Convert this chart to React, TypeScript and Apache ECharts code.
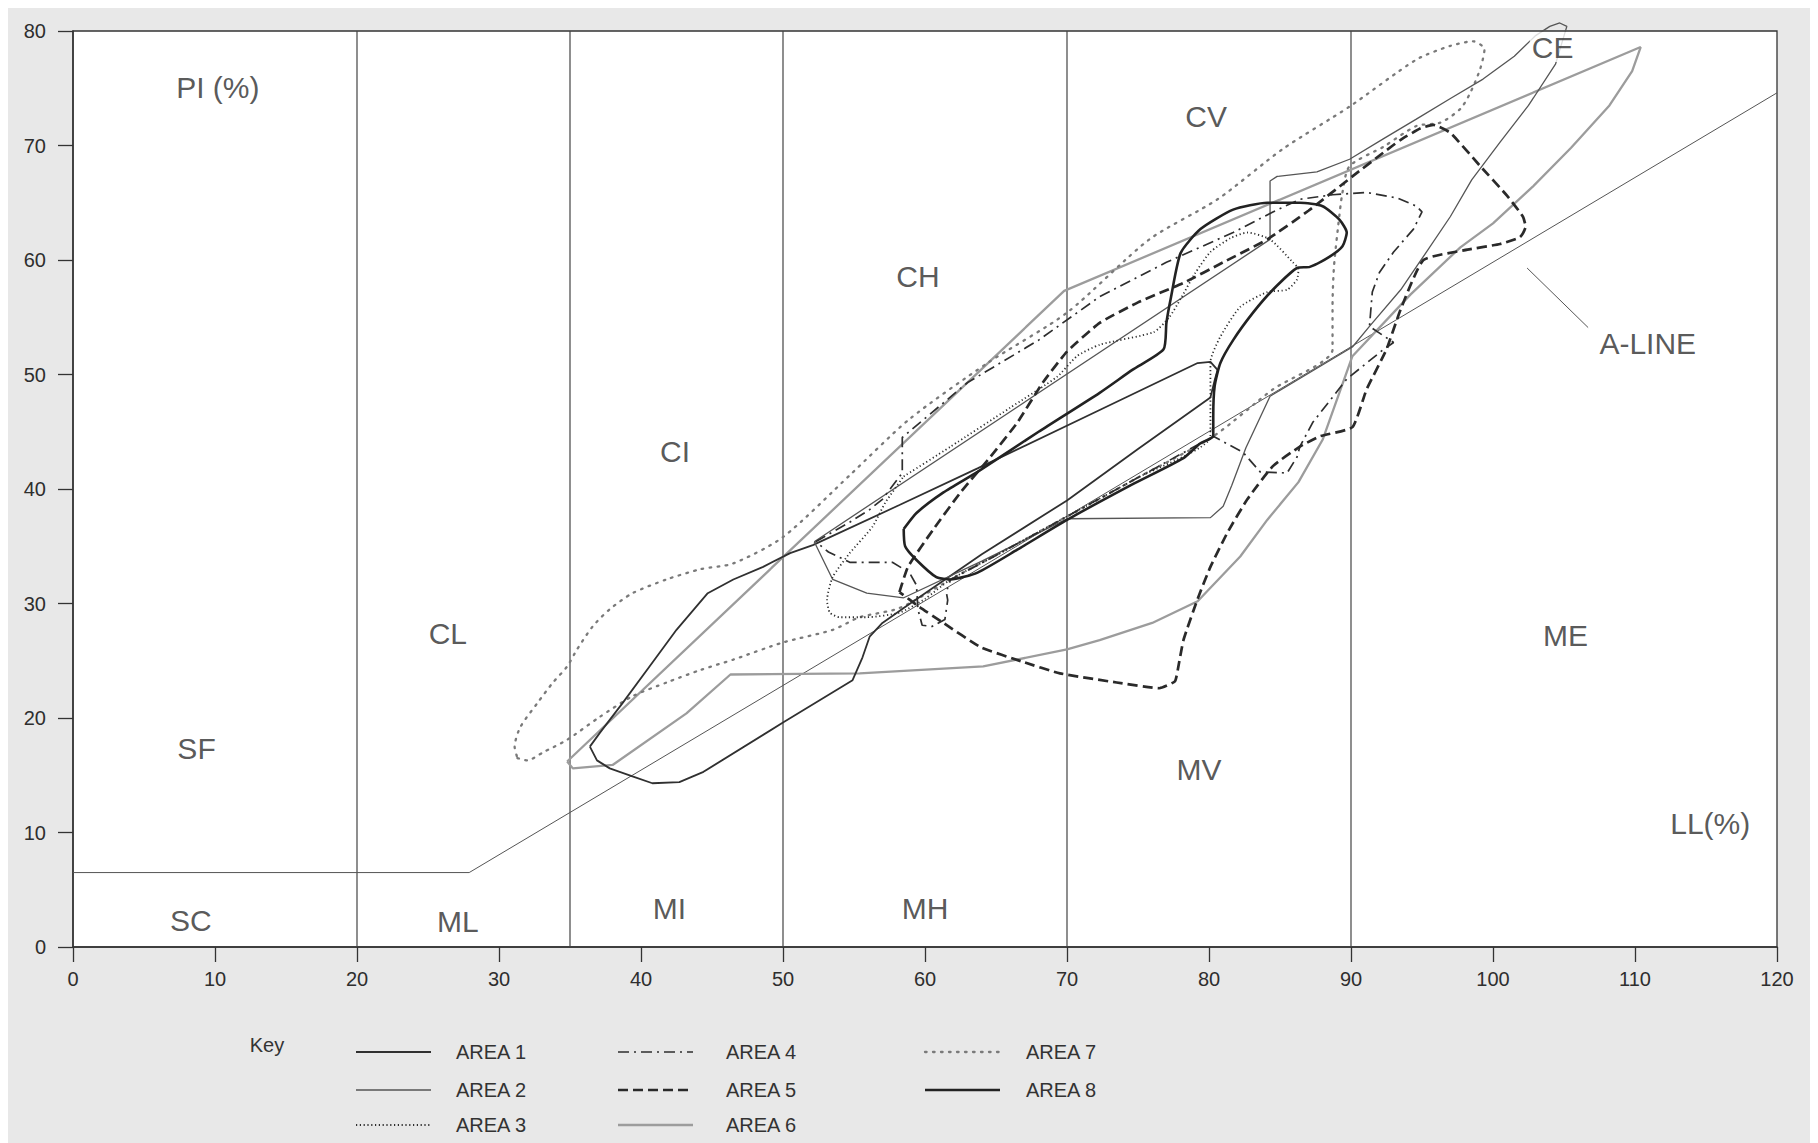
import React, { useEffect, useRef } from "react";
import * as echarts from "echarts";

const FONT = '"Liberation Sans", Arial, Helvetica, sans-serif';

// Axis ranges
const LL_MIN = 0;
const LL_MAX = 120;
const PI_MIN = 0;
const PI_MAX = 80;

// Classification boundaries (LL %)
const ZONE_BOUNDARIES = [20, 35, 50, 70, 90];

// A-line as drawn (horizontal part then slope)
const A_LINE = [[0, 6.5], [27.9, 6.5], [120, 74.6]];
const A_LEADER = [[102.4, 59.3], [106.7, 54.1]];

// Zone / axis annotations: [name, LL, PI]
const ZONE_LABELS: [string, number, number][] = [
  ["PI (%)", 10.2, 75.1],
  ["SF", 8.7, 17.3],
  ["SC", 8.3, 2.3],
  ["CL", 26.4, 27.4],
  ["ML", 27.1, 2.2],
  ["CI", 42.4, 43.3],
  ["MI", 42.0, 3.4],
  ["CH", 59.5, 58.6],
  ["MH", 60.0, 3.4],
  ["CV", 79.8, 72.5],
  ["MV", 79.3, 15.5],
  ["CE", 104.2, 78.6],
  ["ME", 105.1, 27.2],
  ["A-LINE", 110.9, 52.7],
  ["LL(%)", 115.3, 10.8],
];

// Envelopes of the eight areas, [LL, PI]
const AREA_1 = [
  [36.4, 17.5], [36.9, 16.3], [37.8, 15.6], [39.4, 14.9], [40.8, 14.3], [42.7, 14.4],
  [44.4, 15.3], [50, 19.6], [54.9, 23.3], [55.6, 25.3], [56.1, 27.1], [57, 28.3],
  [58.5, 29.6], [64, 34.3], [70, 39], [75, 43.5], [80.1, 48], [80.4, 49.5],
  [80.6, 50.4], [80.1, 51.1], [79.2, 51], [72.3, 46.9], [63.7, 41.8], [58.2, 38.6],
  [52.1, 35.1], [50.5, 34.4], [48.6, 33.2], [46.5, 32.1], [44.7, 30.9], [42.5, 27.7],
  [40.6, 24.5], [38.7, 21.3], [37.1, 18.7], [36.4, 17.5],
];

const AREA_2 = [
  [52.2, 35.4], [84.3, 61.8], [84.3, 66.9], [84.8, 67.3], [87.6, 67.7], [89.9, 68.8],
  [92.3, 70.6], [94.6, 72.3], [97, 74.1], [99.3, 75.8], [101.5, 77.8], [103, 79.6],
  [104, 80.4], [104.7, 80.7], [105.2, 80.4], [104.4, 77.1], [102.5, 73.5], [100.5, 70.3],
  [98.5, 67], [97, 63.8], [95.2, 60.5], [93.5, 57.4], [91.3, 54.2], [90.1, 52.4],
  [84.3, 48.1], [82.6, 43.6], [81.6, 40.3], [81, 38.5], [80.1, 37.5], [70, 37.4],
  [64, 33.7], [58.5, 30.5], [55.9, 30.9], [53.5, 32.1], [52.2, 35.4],
];

const AREA_3 = [
  [58.5, 41.1], [61.8, 43.7], [66, 47.1], [69.3, 49.8], [70.7, 51.6], [72.3, 52.6],
  [76.1, 53.7], [77.2, 55], [78, 56.6], [79, 58.8], [80.1, 60.7], [81.5, 61.9],
  [82.7, 62.4], [84.3, 61.8], [85.9, 59.8], [86.3, 59.2], [86.2, 58.3], [85.5, 57.4],
  [84.1, 57.2], [82.2, 55.9], [80.8, 53.3], [80.1, 51.1], [80.1, 44.6], [75, 41],
  [70, 37.6], [65, 34.2], [61.8, 32.1], [60, 30.4], [58.2, 29.2], [55.9, 28.8],
  [54, 28.8], [53.3, 29.2], [53.1, 30.3], [53.5, 32.3], [54.7, 34.4], [56.3, 36.7],
  [57.2, 38.8], [58.5, 41.1],
];

const AREA_4 = [
  [52.3, 35.4], [54.7, 37.1], [56.1, 38.2], [57, 39.1], [58.4, 41.4], [58.4, 44.5],
  [63, 49.3], [68, 53], [72.3, 56.8], [77, 59.8], [81.7, 62.4], [84.5, 64.2],
  [86.4, 65.3], [88.7, 65.7], [91.1, 65.9], [93.3, 65.4], [94.6, 64.7], [95, 64.2],
  [94.4, 62.7], [93, 60.7], [92, 58.9], [91.5, 57.2], [91.3, 54.2], [93, 52.8],
  [92.3, 52.2], [89.7, 49.6], [87.3, 45.8], [86.4, 43.7], [86.2, 42.8], [85.5, 41.4],
  [83.6, 41.5], [82.4, 43.2], [80.3, 44.6], [75, 41], [70, 37.6], [65, 34.2],
  [61.8, 32.1], [61.5, 31], [61.6, 30.3], [61.4, 28.6], [60.5, 28], [59.8, 28.1],
  [59.5, 29.5], [59.4, 31.6], [58.9, 32.7], [57.7, 33.6], [54.7, 33.6], [53.2, 34.5],
  [52.3, 35.4],
];

const AREA_5 = [
  [58.2, 31.0], [58.8, 33.2], [60.6, 36.5], [62.5, 39.7], [64.6, 42.8], [66.5, 45.8],
  [68.3, 49.3], [70, 52], [72.3, 54.5], [75, 56.3], [78.2, 58], [81, 59.8],
  [84.1, 61.8], [87, 64.3], [90.1, 67.3], [92.3, 69.4], [93.5, 70.5], [94.9, 71.5],
  [95.8, 71.8], [97, 71.1], [99.1, 68.2], [101, 65.6], [102.1, 63.8], [102.3, 62.9],
  [101.9, 62], [100.5, 61.4], [98.2, 60.9], [95.1, 60], [93.5, 55.7], [92.5, 52.2],
  [91.1, 48.7], [90.1, 45.4], [87.8, 44.6], [86.4, 43.7], [84.5, 42], [82.7, 39.1],
  [81.3, 36.2], [80.1, 33.2], [79.2, 30.4], [78.2, 26.8], [77.8, 24.2], [77.6, 23.2],
  [76.5, 22.6], [73.5, 23.1], [69.5, 23.9], [66.9, 24.9], [63.9, 26.2], [61.3, 28.3],
  [59.6, 29.7], [58.2, 31.0],
];

const AREA_6 = [
  [34.8, 16.2], [69.8, 57.3], [110.4, 78.6], [109.8, 76.5], [108.2, 73.5], [105.5, 69.8],
  [102.8, 66.4], [100, 63.2], [97.7, 61.1], [94.2, 57], [90.1, 51.6], [88, 44.3],
  [86.3, 40.6], [84.1, 37.3], [82.2, 34.1], [79.2, 30.2], [76, 28.3], [72.3, 26.8],
  [70, 26], [64.1, 24.5], [55.4, 23.9], [46.3, 23.8], [43.2, 20.4], [38, 15.9],
  [35.2, 15.6], [34.8, 16.2],
];

const AREA_7 = [
  [31.3, 16.5], [32, 16.3], [33.1, 17], [34.8, 18.1], [37.1, 20.1], [39.4, 21.9],
  [41.8, 23.1], [44.2, 24.2], [46.5, 25.1], [50, 26.6], [53.5, 27.7], [55.4, 28.8],
  [58.2, 29.6], [61.8, 32.1], [66, 34.9], [70, 37.6], [75, 41], [80.3, 44.6],
  [84.5, 48.7], [88.7, 52.2], [88.7, 56], [88.8, 59.4], [89.1, 63], [89.4, 65.9],
  [89.9, 68.2], [92.3, 69.9], [94.6, 71.7], [96.3, 72], [97.7, 73.2], [98.4, 74.6],
  [99.1, 76.7], [99.4, 78.4], [98.6, 79.1], [97, 78.7], [94.6, 77.5], [89.9, 73.4],
  [85.2, 69.7], [80.6, 65.3], [75.8, 61.8], [70, 55.4], [64.4, 51], [58.9, 46.1],
  [54.7, 41.2], [50, 35.8], [46.5, 33.5], [44.2, 33], [41.8, 32.1], [39.4, 30.9],
  [37.8, 29.5], [36.6, 28], [35.5, 26], [34.8, 24.5], [33.8, 23.1], [32.7, 21.3],
  [31.5, 19.2], [31.1, 17.5], [31.3, 16.5],
];

const AREA_8 = [
  [58.5, 36.5], [58.6, 35], [59.4, 33.8], [60.8, 32.3], [61.8, 32.1], [63.7, 32.7],
  [66.5, 34.7], [70, 37.3], [74.6, 40.4], [78.2, 42.7], [79.4, 44], [80.3, 44.6],
  [80.3, 46.3], [80.4, 49], [80.8, 51], [81.7, 53], [83.1, 55.4], [84.5, 57.4],
  [86.2, 59.3], [87.1, 59.4], [88.5, 60.3], [89.4, 61.2], [89.7, 62.4], [89.2, 63.5],
  [88, 64.7], [86.4, 65], [84.1, 65], [81.7, 64.4], [79.4, 62.7], [78, 60.6],
  [77.3, 56.6], [77, 54.5], [76.8, 52.2], [74.6, 50.4], [72.3, 48.4], [68, 45],
  [63.7, 41.5], [61.3, 39.7], [59.4, 37.9], [58.5, 36.5],
];

const AREA_NAMES = ["AREA 1", "AREA 2", "AREA 3", "AREA 4", "AREA 5", "AREA 6", "AREA 7", "AREA 8"];
const AREA_DATA = [AREA_1, AREA_2, AREA_3, AREA_4, AREA_5, AREA_6, AREA_7, AREA_8];

const AREA_STYLES: any[] = [
  { color: "#303030", width: 1.8, type: "solid" },
  { color: "#555555", width: 1.3, type: "solid" },
  { color: "#2e2e2e", width: 1.8, type: [1.2, 2.6] },
  { color: "#2e2e2e", width: 1.7, type: [11, 5, 2, 5] },
  { color: "#2a2a2a", width: 2.7, type: [10, 5] },
  { color: "#9c9c9c", width: 2.3, type: "solid" },
  { color: "#7a7a7a", width: 2.3, type: [1.6, 6.4] },
  { color: "#222222", width: 2.6, type: "solid" },
];
const AREA_SMOOTH = [0, 0, 0.2, 0, 0.15, 0, 0.25, 0.2];

// Key layout (3 columns)
const KEY_COLUMNS = [[0, 1, 2], [3, 4, 5], [6, 7]];

export default function App() {
  const ref = useRef<HTMLDivElement>(null);

  useEffect(() => {
    if (!ref.current) return;
    const chart = echarts.init(ref.current, null, { renderer: "svg" });

    const boundarySeries = ZONE_BOUNDARIES.map((ll) => ({
      type: "line",
      data: [[ll, PI_MIN], [ll, PI_MAX]],
      symbol: "none",
      silent: true,
      lineStyle: { color: "#444", width: 1.2 },
      z: 1,
    }));

    const areaSeries = AREA_NAMES.map((name, i) => ({
      name,
      type: "line",
      data: AREA_DATA[i],
      symbol: "none",
      smooth: AREA_SMOOTH[i],
      clip: false,
      silent: true,
      lineStyle: { ...AREA_STYLES[i], cap: i === 6 ? "round" : "butt" },
      z: 3 + (i === 5 || i === 6 ? 0 : 1),
    }));

    // Key drawn as graphic elements
    const keyColX = [348, 610, 917];
    const keyTextX = [448, 718, 1018];
    const keyRowY = [1044, 1082, 1117];
    const keyGraphics: any[] = [
      {
        type: "text",
        x: 259,
        y: 1037,
        style: {
          text: "Key",
          fontSize: 20,
          fontFamily: FONT,
          fill: "#333",
          align: "center",
          verticalAlign: "middle",
        },
      },
    ];
    KEY_COLUMNS.forEach((col, c) => {
      col.forEach((idx, r) => {
        const st = AREA_STYLES[idx];
        keyGraphics.push({
          type: "line",
          shape: { x1: keyColX[c], y1: keyRowY[r], x2: keyColX[c] + 75, y2: keyRowY[r] },
          style: {
            stroke: st.color,
            lineWidth: st.width,
            lineDash: Array.isArray(st.type) ? st.type : null,
            lineCap: idx === 6 ? "round" : "butt",
          },
        });
        keyGraphics.push({
          type: "text",
          x: keyTextX[c],
          y: keyRowY[r],
          style: {
            text: AREA_NAMES[idx],
            fontSize: 20,
            fontFamily: FONT,
            fill: "#333",
            align: "left",
            verticalAlign: "middle",
          },
        });
      });
    });

    const option: any = {
      animation: false,
      backgroundColor: "#e8e8e8",
      grid: {
        left: 65,
        right: 33,
        top: 23,
        bottom: 196,
        show: true,
        backgroundColor: "#ffffff",
        borderColor: "#333",
        borderWidth: 1.3,
      },
      xAxis: {
        type: "value",
        min: LL_MIN,
        max: LL_MAX,
        interval: 10,
        axisLine: { show: true, lineStyle: { color: "#333", width: 1.5 } },
        axisTick: { show: true, inside: false, length: 15, lineStyle: { color: "#333", width: 1.3 } },
        axisLabel: { margin: 22, fontSize: 20, color: "#2e2e2e", fontFamily: FONT },
        splitLine: { show: false },
      },
      yAxis: {
        type: "value",
        min: PI_MIN,
        max: PI_MAX,
        interval: 10,
        axisLine: { show: true, lineStyle: { color: "#333", width: 1.5 } },
        axisTick: { show: true, inside: false, length: 15, lineStyle: { color: "#333", width: 1.3 } },
        axisLabel: { margin: 27, fontSize: 20, color: "#2e2e2e", fontFamily: FONT },
        splitLine: { show: false },
      },
      graphic: keyGraphics,
      series: [
        ...boundarySeries,
        {
          type: "line",
          data: A_LINE,
          symbol: "none",
          silent: true,
          lineStyle: { color: "#555", width: 1 },
          z: 2,
        },
        {
          type: "line",
          data: A_LEADER,
          symbol: "none",
          silent: true,
          lineStyle: { color: "#555", width: 1 },
          z: 2,
        },
        ...areaSeries,
        {
          type: "scatter",
          silent: true,
          symbolSize: 1,
          itemStyle: { color: "rgba(0,0,0,0)" },
          z: 10,
          data: ZONE_LABELS.map(([name, ll, pi]) => ({
            name,
            value: [ll, pi],
            label:
              name === "CE"
                ? { backgroundColor: "#ffffff", padding: [0, 2, 0, 2] }
                : undefined,
          })),
          label: {
            show: true,
            position: "inside",
            formatter: "{b}",
            fontSize: 30,
            color: "#2e2e2e",
            fontFamily: FONT,
          },
        },
      ],
    };

    chart.setOption(option);
    return () => chart.dispose();
  }, []);

  return (
    <div
      ref={ref}
      style={{ position: "fixed", left: 8, top: 8, width: 1802, height: 1135 }}
    />
  );
}
